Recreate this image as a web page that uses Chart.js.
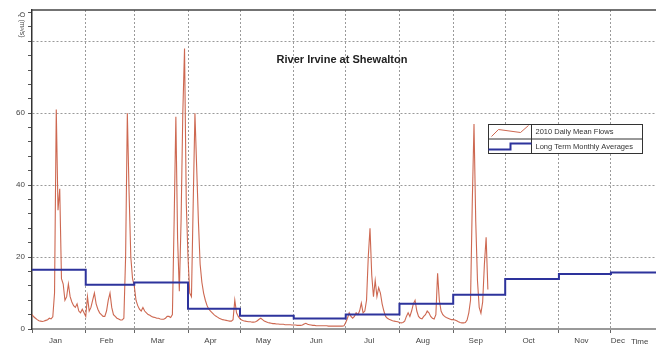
<!DOCTYPE html>
<html>
<head>
<meta charset="utf-8">
<script src="https://cdn.jsdelivr.net/npm/chart.js@4.4.0/dist/chart.umd.min.js"></script>
<style>
  html, body { margin: 0; padding: 0; background: #fff; }
  #wrap { width: 656px; height: 347px; position: relative; }
</style>
</head>
<body>
<div id="wrap"><canvas id="myChart"></canvas></div>
<script>
const chartTitle = "River Irvine at Shewalton";
const yTitle = "Q (m\u00b3/s)";
const xTitle = "Time";
const seriesNames = ["2010 Daily Mean Flows", "Long Term Monthly Averages"];

const monthNames = ["Jan", "Feb", "Mar", "Apr", "May", "Jun", "Jul", "Aug", "Sep", "Oct", "Nov", "Dec"];
const monthStarts = [0, 31, 59, 90, 120, 151, 181, 212, 243, 273, 304, 334];
const monthlyAverages = [16.5, 12.3, 12.9, 5.6, 3.7, 2.9, 4.0, 7.0, 9.5, 13.9, 15.3, 15.7];

// daily mean flows 2010 (m3/s)
const flowJan = [4.0, 3.4, 3.0, 2.6, 2.3, 2.2, 2.1, 2.2, 2.4, 2.6, 3.0, 2.8, 3.4, 10, 61, 33, 39, 14, 12.5, 8, 9, 12.5, 9, 7.5, 6.5, 6, 7, 5, 4.5, 5.5, 4.5];
const flowFeb = [3.5, 9, 5, 6, 8, 10, 7, 5.5, 4.5, 4, 3.5, 3.5, 5, 8, 10, 6, 4, 3.5, 3, 2.8, 2.5, 2.5, 3, 20, 60, 38, 20, 14];
const flowMar = [12, 8, 6.5, 5.5, 5, 6, 5, 4.5, 4, 3.8, 3.5, 3.3, 3.2, 3.0, 3.0, 2.8, 2.7, 2.7, 3.0, 3.5, 3.5, 3.2, 4, 30, 59, 25, 10.5, 30, 60, 78, 35];
const flowApr = [20, 10, 9, 35, 60, 45, 30, 18, 13, 10, 8, 6.5, 5.5, 5, 4.5, 4.0, 3.6, 3.3, 3.0, 2.8, 2.6, 2.5, 2.4, 2.3, 2.2, 2.2, 2.6, 8, 4.5, 3.5];
const flowMay = [2.8, 2.5, 2.3, 2.2, 2.1, 2.0, 2.0, 1.9, 1.9, 2.0, 2.3, 2.7, 3.0, 2.6, 2.2, 2.0, 1.8, 1.7, 1.6, 1.5, 1.5, 1.4, 1.4, 1.3, 1.3, 1.3, 1.2, 1.2, 1.2, 1.2, 1.1];
const flowJun = [1.1, 1.1, 1.0, 1.0, 1.0, 1.1, 1.4, 1.6, 1.3, 1.2, 1.1, 1.0, 1.0, 0.9, 0.9, 0.9, 0.9, 0.9, 0.9, 0.9, 0.8, 0.8, 0.8, 0.8, 0.8, 0.8, 0.8, 0.8, 0.8, 0.9];
const flowJul = [1.8, 3, 4.5, 3.5, 3, 3.5, 4.5, 4, 5, 7.2, 4.5, 5, 8, 20, 28, 15, 9, 13.5, 9, 11.5, 10, 7, 5, 3.5, 3, 2.7, 2.5, 2.3, 2.2, 2.1, 2.0];
const flowAug = [1.8, 1.7, 1.8, 2.2, 3.5, 4.5, 3.5, 5, 7, 8, 5, 3.5, 3, 2.8, 3.5, 4, 5, 4.5, 3.5, 3, 2.8, 4, 15.5, 8, 5, 4, 3.5, 3.2, 3, 2.8, 2.6];
const flowSep = [2.6, 2.5, 2.3, 2.0, 1.8, 1.7, 1.7, 1.8, 2.5, 4.5, 8, 35, 57, 30, 13.5, 6, 4.4, 7.5, 18, 25.5, 11];

const dailyFlow = [].concat(flowJan, flowFeb, flowMar, flowApr, flowMay, flowJun, flowJul, flowAug, flowSep);

const yLabelValues = [0, 20, 40, 60];
const yGridValues = [20, 40, 60, 80];

const redColor = "rgba(200, 88, 62, 0.9)";
const blueColor = "#2d339c";
const fontFam = "'Liberation Sans', Arial, sans-serif";

// where the month names sit (between boundaries)
const labelPos = {};
monthStarts.forEach((s, i) => {
  const next = i < 11 ? monthStarts[i + 1] : 365;
  const pos = i < 11 ? (s + next) / 2 - 2 : s + 4;
  labelPos[pos] = monthNames[i];
});

const stepData = monthStarts.map((d, i) => ({ x: d, y: monthlyAverages[i] }));
stepData.push({ x: 365, y: monthlyAverages[11] });

const overlay = {
  id: "overlay",
  afterDraw(chart) {
    const { ctx, chartArea } = chart;
    const { left, top, right } = chartArea;
    ctx.save();

    // top frame line
    ctx.strokeStyle = "#444";
    ctx.lineWidth = 1.5;
    ctx.beginPath();
    ctx.moveTo(left, top);
    ctx.lineTo(right, top);
    ctx.stroke();

    // title inside the plot
    ctx.fillStyle = "#222";
    ctx.font = "bold 11px " + fontFam;
    ctx.textAlign = "center";
    ctx.textBaseline = "middle";
    ctx.fillText(chartTitle, (left + right) / 2 - 2, top + 50);

    // y title, rotated
    ctx.save();
    ctx.translate(22, top + 2);
    ctx.rotate(Math.PI / 2);
    ctx.font = "7px " + fontFam;
    ctx.fillStyle = "#444";
    ctx.textAlign = "left";
    ctx.textBaseline = "middle";
    ctx.fillText(yTitle, 0, 0);
    ctx.restore();

    // x title at the right end
    ctx.font = "8px " + fontFam;
    ctx.fillStyle = "#444";
    ctx.textAlign = "left";
    ctx.textBaseline = "middle";
    ctx.fillText(xTitle, 631, 342);

    // legend table
    const lx = 488.5, ly = 124.5, lw = 154, lh = 29, col = 43;
    ctx.fillStyle = "#fff";
    ctx.fillRect(lx, ly, lw, lh);
    ctx.strokeStyle = "#333";
    ctx.lineWidth = 1;
    ctx.strokeRect(lx, ly, lw, lh);
    ctx.beginPath();
    ctx.moveTo(lx, ly + lh / 2);
    ctx.lineTo(lx + lw, ly + lh / 2);
    ctx.moveTo(lx + col, ly);
    ctx.lineTo(lx + col, ly + lh);
    ctx.stroke();

    const ds = chart.data.datasets;
    ctx.strokeStyle = ds[0].borderColor;
    ctx.lineWidth = 1;
    ctx.beginPath();
    ctx.moveTo(lx + 3, ly + 12);
    ctx.lineTo(lx + 10, ly + 5);
    ctx.lineTo(lx + 32, ly + 8);
    ctx.lineTo(lx + 40, ly + 1);
    ctx.stroke();

    ctx.strokeStyle = ds[1].borderColor;
    ctx.lineWidth = 2;
    ctx.beginPath();
    ctx.moveTo(lx, ly + 25);
    ctx.lineTo(lx + 22, ly + 25);
    ctx.lineTo(lx + 22, ly + 19);
    ctx.lineTo(lx + col, ly + 19);
    ctx.stroke();

    ctx.fillStyle = "#333";
    ctx.font = "7.5px " + fontFam;
    ctx.textAlign = "left";
    ctx.textBaseline = "middle";
    ctx.fillText(ds[0].label, lx + col + 4, ly + lh / 4 + 0.5);
    ctx.fillText(ds[1].label, lx + col + 4, ly + 3 * lh / 4 + 0.5);

    ctx.restore();
  }
};

new Chart(document.getElementById("myChart"), {
  type: "line",
  data: {
    datasets: [
      {
        label: seriesNames[0],
        data: dailyFlow.map((v, i) => ({ x: i, y: v })),
        borderColor: redColor,
        borderWidth: 1.1,
        pointRadius: 0,
        tension: 0,
        order: 1,
      },
      {
        label: seriesNames[1],
        data: stepData,
        borderColor: blueColor,
        borderWidth: 2,
        pointRadius: 0,
        stepped: "before",
        order: 0,
      },
    ],
  },
  options: {
    responsive: true,
    maintainAspectRatio: false,
    animation: false,
    layout: { padding: { top: 10, left: 0, right: 0, bottom: 0 } },
    plugins: {
      legend: { display: false },
      tooltip: { enabled: false },
    },
    scales: {
      x: {
        type: "linear",
        min: 0,
        max: 360,
        afterBuildTicks: (scale) => {
          const vals = monthStarts.concat(Object.keys(labelPos).map(Number)).sort((a, b) => a - b);
          scale.ticks = vals.map((v) => ({ value: v }));
        },
        afterFit: (scale) => { scale.height = 18; },
        ticks: {
          autoSkip: false,
          maxRotation: 0,
          padding: 3,
          color: "#444",
          font: { family: fontFam, size: 8 },
          callback: (v) => labelPos[v] || "",
        },
        grid: {
          color: (c) => (c.tick && monthStarts.includes(c.tick.value) && c.tick.value > 0 ? "#9a9a9a" : "rgba(0,0,0,0)"),
          tickColor: (c) => (c.tick && monthStarts.includes(c.tick.value) ? "#666" : "rgba(0,0,0,0)"),
          tickLength: 4,
          lineWidth: 1,
        },
        border: { color: "#999", width: 2, dash: [2, 2] },
      },
      y: {
        min: 0,
        max: 88.7,
        afterBuildTicks: (scale) => {
          const vals = [];
          for (let v = 0; v <= 88; v += 4) vals.push({ value: v });
          scale.ticks = vals;
        },
        afterFit: (scale) => { scale.width = 32; },
        ticks: {
          padding: 3,
          color: "#444",
          font: { family: fontFam, size: 8 },
          callback: (v) => (yLabelValues.includes(v) ? String(v) : ""),
        },
        grid: {
          color: (c) => (c.tick && yGridValues.includes(c.tick.value) ? "#9a9a9a" : "rgba(0,0,0,0)"),
          tickColor: "#555",
          tickLength: 4,
          lineWidth: 1,
        },
        border: { color: "#333", width: 1.5, dash: [2, 2] },
      },
    },
  },
  plugins: [overlay],
});
</script>
</body>
</html>
